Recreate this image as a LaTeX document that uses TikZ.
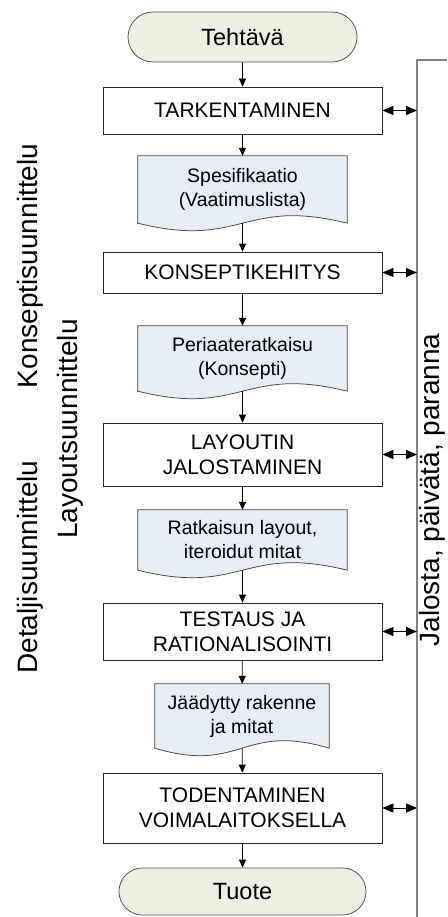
\documentclass[tikz,border=0pt]{standalone}
\usepackage{fontspec}
\setmainfont{Liberation Sans}
\usetikzlibrary{arrows.meta,shapes.misc}
\definecolor{termfill}{RGB}{236,240,224}
\definecolor{docfill}{RGB}{231,237,246}
\definecolor{railgray}{RGB}{128,128,128}
\pgfdeclarelayer{background}
\pgfsetlayers{background,main}
\newcommand{\docback}[1]{%
  \begin{pgfonlayer}{background}
    \filldraw[docline]
      (#1.south west) -- (#1.north west) -- (#1.north east) -- (#1.south east)
      .. controls ([yshift=26pt]#1.south) and ([yshift=-26pt]#1.south) ..
      (#1.south west) -- cycle;
  \end{pgfonlayer}}

\begin{document}
\begin{tikzpicture}[x=1pt,y=-1pt,
    box/.style={draw=black!85,line width=0.75pt,fill=white,minimum width=279pt,
      inner sep=0pt,align=center,font=\fontsize{21}{25}\selectfont},
    doc/.style={minimum width=209pt,inner sep=0pt,align=center,
      font=\fontsize{19.5}{24}\selectfont},
    docline/.style={draw=black!75,line width=0.75pt,fill=docfill},
    term/.style={rounded rectangle,draw=black!70,line width=0.75pt,fill=termfill,
      inner sep=0pt,font=\fontsize{23.5}{26}\selectfont},
    side/.style={rotate=90,inner sep=0pt,font=\fontsize{28}{30}\selectfont},
    flow/.style={-{Triangle[length=8pt,width=7pt]},line width=0.75pt},
    both/.style={{Triangle[length=11pt,width=9pt]}-{Triangle[length=11pt,width=9pt]},line width=0.75pt},
    rail/.style={draw=railgray,line width=1.3pt}]
  \useasboundingbox (0,0) rectangle (447,917);

  \node[term,minimum width=229pt,minimum height=50pt] (tehtava) at (242.5,37) {Tehtävä};
  \node[box,minimum height=47pt] (tark) at (242.5,110.5) {TARKENTAMINEN};
  \node[doc,minimum height=67pt] (spec) at (242.5,189.5) {Spesifikaatio\\(Vaatimuslista)};
  \node[box,minimum height=41pt] (konsept) at (242.5,272.5) {KONSEPTIKEHITYS};
  \node[doc,minimum height=65pt] (periaate) at (242.5,358.5) {Periaateratkaisu\\(Konsepti)};
  \node[box,minimum height=63pt] (layout) at (242.5,454.5) {LAYOUTIN\\JALOSTAMINEN};
  \node[doc,minimum height=60pt] (ratkaisu) at (242.5,540) {Ratkaisun layout,\\iteroidut mitat};
  \node[box,minimum height=57pt] (testaus) at (242.5,631.5) {TESTAUS JA\\RATIONALISOINTI};
  \node[doc,minimum width=174pt,minimum height=64pt] (jaadytty) at (242,716) {Jäädytty rakenne\\ja mitat};
  \node[box,minimum height=70pt] (todent) at (242.5,808) {TODENTAMINEN\\VOIMALAITOKSELLA};
  \node[term,minimum width=247pt,minimum height=47pt] (tuote) at (242.5,891.5) {Tuote};

  \docback{spec}
  \docback{periaate}
  \docback{ratkaisu}
  \docback{jaadytty}

  \draw[flow] (tehtava) -- (tark);
  \draw[flow] (tark) -- (spec);
  \draw[flow] (spec) -- (konsept);
  \draw[flow] (konsept) -- (periaate);
  \draw[flow] (periaate) -- (layout);
  \draw[flow] (layout) -- (ratkaisu);
  \draw[flow] (ratkaisu) -- (testaus);
  \draw[flow] (testaus) -- (jaadytty);
  \draw[flow] (jaadytty) -- (todent);
  \draw[flow] (todent) -- (tuote);

  \coordinate (railtop) at (417,60);
  \draw[rail] (447,60) -- (railtop) -- (417,917);
  \draw[both] (tark.east) -- (tark.east -| railtop);
  \draw[both] (konsept.east) -- (konsept.east -| railtop);
  \draw[both] (layout.east) -- (layout.east -| railtop);
  \draw[both] (testaus.east) -- (testaus.east -| railtop);
  \draw[both] (todent.east) -- (todent.east -| railtop);

  \node[side] (konseptilabel) at (30,266) {Konseptisuunnittelu};
  \node[side] (layoutlabel) at (70,429) {Layoutsuunnittelu};
  \node[side] (detaljilabel) at (30,567) {Detaljisuunnittelu};
  \node[side] (jalostalabel) at (432,490) {Jalosta, päivätä, paranna};
\end{tikzpicture}
\end{document}
